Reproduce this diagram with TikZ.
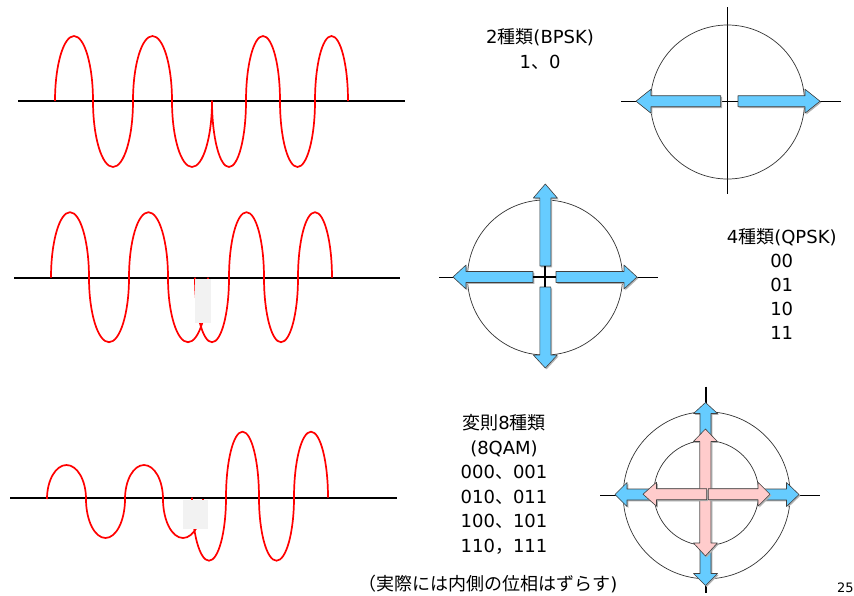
\documentclass[tikz,border=0pt]{standalone}
\usepackage{fontspec}
\setmainfont{DejaVu Sans}
\newfontfamily\jp{Noto Sans CJK JP}
\definecolor{arrblue}{HTML}{66CCFF}
\definecolor{arrpink}{HTML}{FFCCCC}
\definecolor{coverg}{HTML}{F2F2F2}
% #1 style, #2 tail x, #3 tail y, #4 angle, #5 length, #6 head length
\newcommand{\blockarr}[6]{%
  \begin{scope}[shift={(#2+1.3,#3+1.3)},rotate=#4]
    \fill[black!30] (0,-5.5) -- ({#5-#6},-5.5) -- ({#5-#6},-12) -- (#5,0) -- ({#5-#6},12) -- ({#5-#6},5.5) -- (0,5.5) -- cycle;
  \end{scope}
  \begin{scope}[shift={(#2,#3)},rotate=#4]
    \draw[#1] (0,-5.5) -- ({#5-#6},-5.5) -- ({#5-#6},-12) -- (#5,0) -- ({#5-#6},12) -- ({#5-#6},5.5) -- (0,5.5) -- cycle;
  \end{scope}}
\begin{document}
\begin{tikzpicture}[x=1pt,y=-1pt,line join=round,
  wave/.style={red,line width=1.7pt},
  axisline/.style={black,line width=1.8pt},
  circ/.style={draw=black!80,line width=0.7pt},
  caxis/.style={black,line width=0.9pt},
  bluearr/.style={fill=arrblue,draw=black!75,line width=0.6pt},
  pinkarr/.style={fill=arrpink,draw=black!75,line width=0.6pt},
  lbl/.style={font=\fontsize{18}{24}\selectfont,anchor=base,inner sep=0pt},
  up/.style={start angle=180,end angle=360},
  dn/.style={start angle=180,end angle=0}]
\useasboundingbox (0,0) rectangle (854,595);
\fill[white] (0,0) rectangle (854,595);

% ---------- wave 1 (BPSK) ----------
\draw[axisline] (18,101) -- (405,101);
\draw[wave] (55,101)
  arc[up,x radius=19,y radius=65]
  arc[dn,x radius=20,y radius=66]
  arc[up,x radius=19.5,y radius=65]
  arc[dn,x radius=20,y radius=66]
  arc[dn,x radius=17,y radius=66]
  arc[up,x radius=17,y radius=65]
  arc[dn,x radius=17.5,y radius=66]
  arc[up,x radius=16.5,y radius=65];

% ---------- wave 2 (QPSK) ----------
\draw[axisline] (14,277.7) -- (400,277.7);
\draw[wave] (51,277.7)
  arc[up,x radius=19,y radius=65.5]
  arc[dn,x radius=20,y radius=64.5]
  arc[up,x radius=19.5,y radius=65.5]
  arc[dn,x radius=20,y radius=64.5];
\draw[wave] (195,277.7)
  arc[dn,x radius=17,y radius=64.5]
  arc[up,x radius=17.5,y radius=65.5]
  arc[dn,x radius=17,y radius=64.5]
  arc[up,x radius=17,y radius=65.5];
\fill[coverg] (195,278.6) rectangle (211,323);

% ---------- wave 3 (8QAM) ----------
\draw[axisline] (10,497.7) -- (397,497.7);
\draw[wave] (47,499)
  arc[up,x radius=19.5,y radius=34]
  arc[dn,x radius=19.5,y radius=39]
  arc[up,x radius=19,y radius=34]
  arc[dn,x radius=20,y radius=39];
\draw[wave] (192,497.7)
  arc[dn,x radius=17,y radius=63]
  arc[up,x radius=16.5,y radius=66]
  arc[dn,x radius=17.5,y radius=63]
  arc[up,x radius=17,y radius=66];
\fill[coverg] (183,500) rectangle (208,529);

% ---------- BPSK constellation ----------
\draw[caxis] (727.7,7) -- (727.7,194);
\draw[caxis] (621,101) -- (841,101);
\draw[circ] (727.5,102) circle[radius=77];
\blockarr{bluearr}{720.7}{101.2}{180}{84.7}{15}
\blockarr{bluearr}{738}{101.2}{0}{82}{15}

% ---------- QPSK constellation ----------
\draw[caxis] (439,277) -- (658,277);
\draw[caxis] (545.3,210) -- (545.3,350);
\draw[circ] (545,277.5) circle[radius=77.5];
\blockarr{bluearr}{545.3}{266}{90}{82}{14}
\blockarr{bluearr}{545.3}{287}{-90}{81}{13}
\blockarr{bluearr}{533}{277}{180}{80}{13}
\blockarr{bluearr}{556}{277}{0}{81}{13}
\draw[black,line width=1.8pt] (545.3,266) -- (545.3,287);
\draw[black,line width=1.2pt] (533,277) -- (556,277);

% ---------- 8QAM constellation ----------
\draw[black,line width=1.2pt] (706,386.7) -- (706,593);
\draw[black,line width=1.2pt] (600,495.7) -- (820,495.7);
\draw[circ] (706.7,495.3) circle[radius=83.5];
\draw[circ] (706.3,493) circle[radius=52.5];
\blockarr{bluearr}{705.5}{494.5}{90}{92}{11}
\blockarr{bluearr}{705.5}{494.5}{-90}{91}{12}
\blockarr{bluearr}{706}{494.5}{180}{91}{12}
\blockarr{bluearr}{706}{494.5}{0}{93}{12.5}
\blockarr{pinkarr}{705.4}{492}{-90}{64}{13}
\blockarr{pinkarr}{705.4}{497}{90}{68}{12.5}
\blockarr{pinkarr}{706.7}{494.2}{180}{63.7}{13.5}
\blockarr{pinkarr}{708.3}{494.2}{0}{61.7}{12}

% ---------- texts ----------
\node[lbl] (t1a) at (540,43.5) {2{\jp 種類}(BPSK)};
\node[lbl] (t1b) at (540,68.5) {1{\jp 、}0};

\node[lbl] (t2a) at (781.7,243.5) {4{\jp 種類}(QPSK)};
\node[lbl] (t2b) at (781.7,267.5) {00};
\node[lbl] (t2c) at (781.7,291.5) {01};
\node[lbl] (t2d) at (781.7,315.5) {10};
\node[lbl] (t2e) at (781.7,339.5) {11};

\node[lbl] (t3a) at (504,429.5) {{\jp 変則}8{\jp 種類}};
\node[lbl] (t3b) at (504,454) {(8QAM)};
\node[lbl] (t3c) at (504,478.5) {000{\jp 、}001};
\node[lbl] (t3d) at (504,503) {010{\jp 、}011};
\node[lbl] (t3e) at (504,527.5) {100{\jp 、}101};
\node[lbl] (t3f) at (504,552) {110{\jp ，}111};

\node[lbl] (note) at (488,590) {{\jp （実際には内側の位相はずらす}){}};
\node[font=\fontsize{13}{13}\selectfont,anchor=base west,inner sep=0pt] (pg) at (837,592) {25};
\end{tikzpicture}
\end{document}
